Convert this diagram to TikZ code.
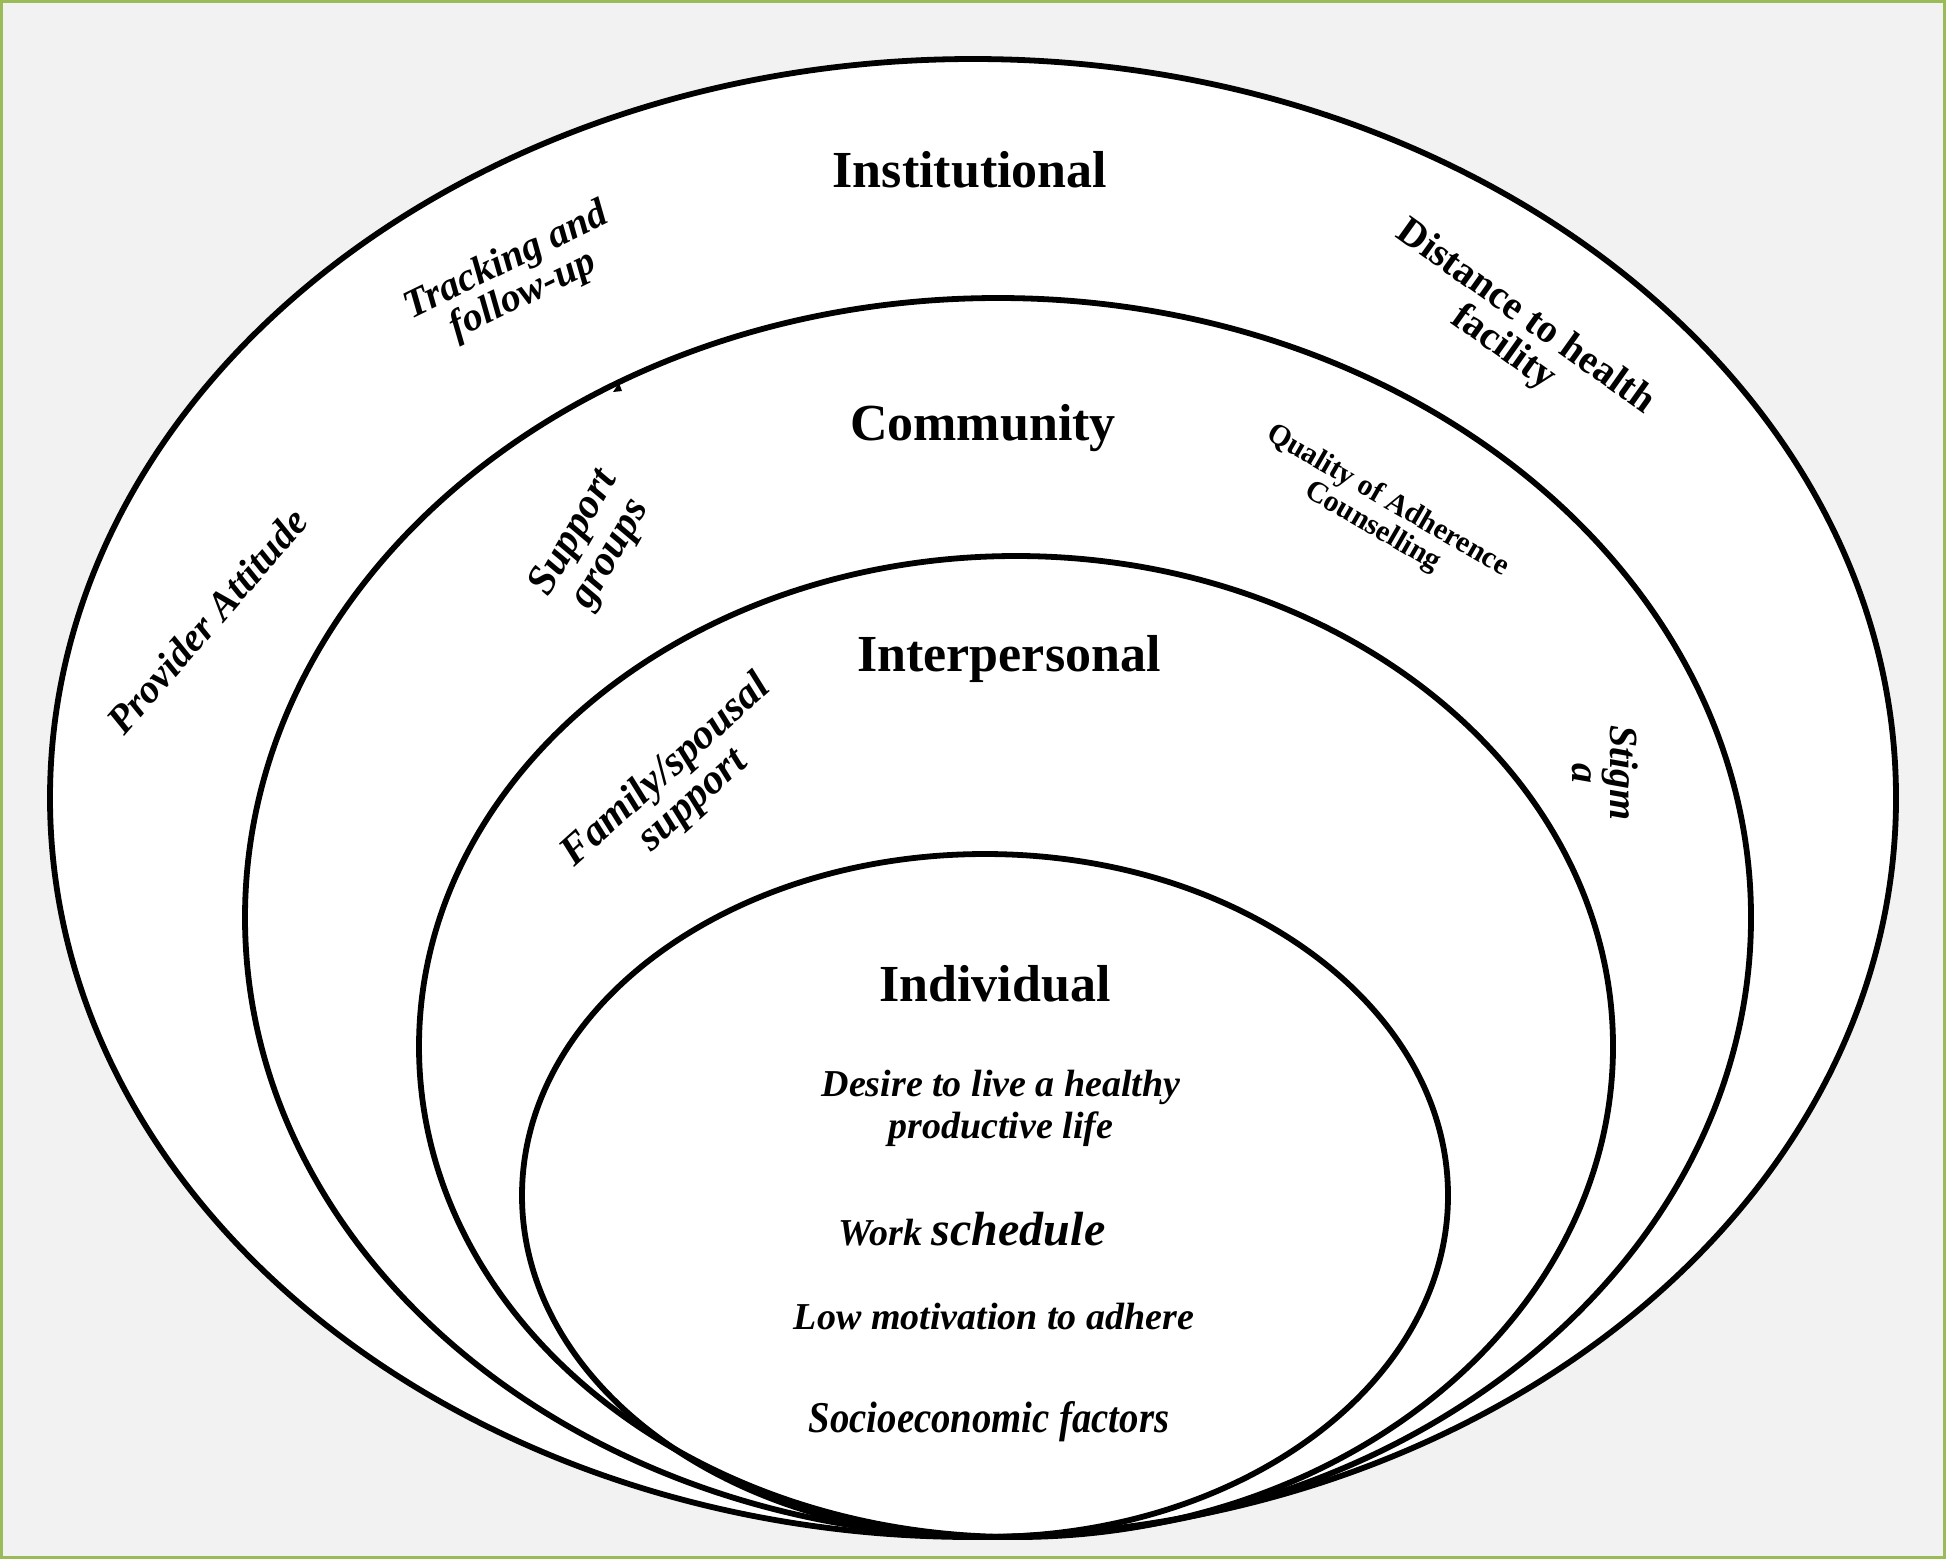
\documentclass[tikz,border=0pt]{standalone}
\usepackage{fontspec}
\setmainfont{Liberation Serif}
\definecolor{bggray}{HTML}{F2F2F2}
\definecolor{frameg}{HTML}{9BBB59}
\begin{document}
\begin{tikzpicture}[x=0.5pt,y=-0.5pt,
  ring/.style={draw=black,line width=2.9pt},
  heading/.style={font=\fontsize{26}{30}\selectfont\bfseries,inner sep=0pt},
  lbl/.style={font=\fontsize{20}{19}\selectfont\bfseries\itshape,align=center,inner sep=0pt},
  lblup/.style={font=\fontsize{20}{19}\selectfont\bfseries,align=center,inner sep=0pt},
  body/.style={font=\fontsize{19}{21}\selectfont\bfseries\itshape,align=center,inner sep=0pt}]
\useasboundingbox (0,0) rectangle (1946,1559);
\fill[bggray] (0,0) rectangle (1946,1559);
\draw[frameg,line width=1.6pt] (1.6,1.6) rectangle (1944.4,1557.4);
% rings
\fill[white] (973,798) ellipse [x radius=461.5pt, y radius=369.5pt];
\draw[ring] (973,798) ellipse [x radius=461.5pt, y radius=369.5pt];
\draw[ring] (998,917.5) ellipse [x radius=376.5pt, y radius=309.75pt];
\draw[ring] (1016,1046.5) ellipse [x radius=298.5pt, y radius=245.25pt];
\draw[ring] (985,1195.5) ellipse [x radius=231.5pt, y radius=170.75pt];
\fill (613,392) -- (619,383) -- (622,391) -- cycle;
% headings
\node[heading] (inst) at (970,170) {Institutional};
\node[heading] (comm) at (983,428) {Community};
\node[heading] (inter) at (1009,659) {Interpersonal};
\node[heading] (indiv) at (995,984) {Individual};
% rotated labels
\node[lbl,rotate=26] (track) at (515,279) {Tracking and\\follow-up};
\node[lblup,rotate=-35.5] (dist) at (1514,333) {Distance to health\\facility};
\node[lblup,rotate=-30,font=\fontsize{15}{15}\selectfont\bfseries] (qual) at (1380,514) {Quality of Adherence\\Counselling};
\node[lbl,rotate=49] (prov) at (207,621) {Provider Attitude};
\node[lbl,rotate=60,font=\fontsize{21}{21}\selectfont\bfseries\itshape] (supp) at (593,544) {Support\\groups};
\node[lbl,rotate=42,font=\fontsize{21}{20}\selectfont\bfseries\itshape] (fam) at (680,786) {Family/spousal\\support};
\node[lbl,rotate=-90] (stig) at (1605,773) {Stigm\\a};
% individual factors
\node[body] (desire) at (1001,1108) {Desire to live a healthy\\productive life};
\node[body] (work) at (972,1229) {Work {\fontsize{24}{26}\selectfont schedule}};
\node[body] (low) at (994,1316) {Low motivation to adhere};
\node[body,xscale=0.88,font=\fontsize{22}{24}\selectfont\bfseries\itshape] (socio) at (989,1422) {Socioeconomic factors};
\end{tikzpicture}
\end{document}
